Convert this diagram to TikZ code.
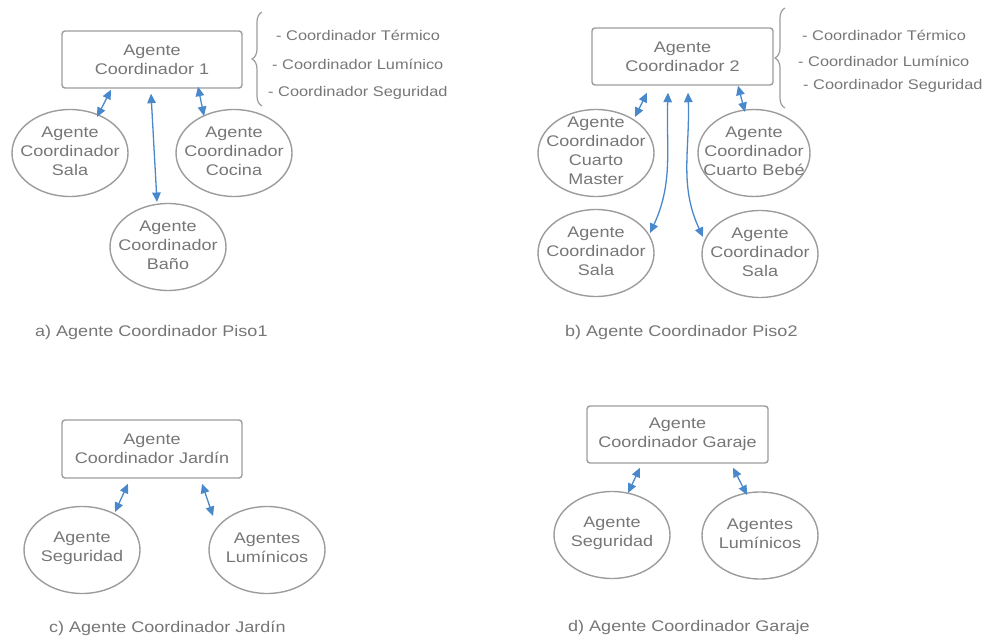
\documentclass[tikz,border=0pt]{standalone}
\usepackage{fontspec}
\setmainfont[FakeStretch=1.17]{Liberation Sans}
\usetikzlibrary{arrows.meta,calc,decorations.pathreplacing,shapes.geometric}
\definecolor{txtgray}{HTML}{767676}
\definecolor{edgegray}{HTML}{9C9C9C}
\definecolor{linkblue}{HTML}{4A88CC}

\begin{document}
\begin{tikzpicture}[x=1pt,y=1pt,
  every node/.style={text=txtgray, font=\fontsize{15.4}{19}\selectfont},
  coordbox/.style={draw=edgegray, line width=1.4pt, rounded corners=3pt,
    minimum width=180pt, minimum height=57pt, align=center, inner sep=0pt},
  agent/.style={ellipse, draw=edgegray, line width=1.4pt,
    minimum width=116pt, minimum height=87pt, inner sep=0pt},
  agenttext/.style={align=center, inner sep=0pt},
  link/.style={draw=linkblue, line width=1.3pt,
    {Triangle[length=9.5pt,width=8.5pt]}-{Triangle[length=9.5pt,width=8.5pt]}},
  listitem/.style={anchor=west, inner sep=0pt, font=\fontsize{14}{17}\selectfont},
  caption/.style={anchor=west, inner sep=0pt},
  brace/.style={draw=edgegray, line width=1.2pt, decorate,
    decoration={brace, amplitude=10pt}}
]
\useasboundingbox (0,0) rectangle (984,-639);

% ---------- a) Piso 1 ----------
\node[coordbox] (boxA) at (152,-59.5) {Agente\\Coordinador 1};
\node[agent] (salaA)   at (70,-153)  {};
\node[agent] (cocinaA) at (234,-153) {};
\node[agent] (banoA)   at (168,-247) {};
\node[agenttext] (salaAt)   at ($(salaA.center)+(0,2)$)   {Agente\\Coordinador\\Sala};
\node[agenttext] (cocinaAt) at ($(cocinaA.center)+(0,2)$) {Agente\\Coordinador\\Cocina};
\node[agenttext] (banoAt)   at ($(banoA.center)+(0,2)$)   {Agente\\Coordinador\\Baño};
\draw[link] ($(boxA.south)+(-41,-1)$) -- ($(salaA.center)+(27,36)$);
\draw[link] ($(boxA.south)+(-1,-5)$)  -- ($(banoA.center)+(-11,45)$);
\draw[link] ($(boxA.south)+(46,2)$)   -- ($(cocinaA.center)+(-30,37)$);
\draw[brace] (262,-106) -- (262,-12);
\node[listitem] (termA) at (276,-35) {- Coordinador Térmico};
\node[listitem] (lumA)  at (272,-64) {- Coordinador Lumínico};
\node[listitem] (segA)  at (268,-93) {- Coordinador Seguridad};
\node[caption] (capA) at (35,-333) {a) Agente Coordinador Piso1};

% ---------- b) Piso 2 ----------
\node[coordbox, minimum width=181pt] (boxB) at (682.5,-56.5) {Agente\\Coordinador 2};
\node[agent] (masterB) at (596,-153) {};
\node[agent, minimum width=112pt] (bebeB) at (754,-153) {};
\node[agent] (salaLB)  at (596,-253) {};
\node[agent] (salaRB)  at (760,-254) {};
\node[agenttext] (masterBt) at ($(masterB.center)+(0,2)$) {Agente\\Coordinador\\Cuarto\\Master};
\node[agenttext] (bebeBt)   at ($(bebeB.center)+(0,2)$)   {Agente\\Coordinador\\Cuarto Bebé};
\node[agenttext] (salaLBt)  at ($(salaLB.center)+(0,2)$)  {Agente\\Coordinador\\Sala};
\node[agenttext] (salaRBt)  at ($(salaRB.center)+(0,2)$)  {Agente\\Coordinador\\Sala};
\draw[link] ($(boxB.south)+(-35.5,-7)$) -- ($(masterB.center)+(39,36)$);
\draw[link] ($(boxB.south)+(-14.5,-7)$) to[out=-92,in=65]  ($(salaLB.center)+(54,20)$);
\draw[link] ($(boxB.south)+(5.5,-7)$)   to[out=-88,in=115] ($(salaRB.center)+(-57,17)$);
\draw[link] ($(boxB.south)+(55.5,0)$)   -- ($(bebeB.center)+(-9,41)$);
\draw[brace] (785,-108) -- (785,-8);
\node[listitem] (termB) at (802,-35) {- Coordinador Térmico};
\node[listitem] (lumB)  at (798,-61) {- Coordinador Lumínico};
\node[listitem] (segB)  at (803,-86) {- Coordinador Seguridad};
\node[caption] (capB) at (565,-333) {b) Agente Coordinador Piso2};

% ---------- c) Jardín ----------
\node[coordbox, minimum height=58pt] (boxC) at (152,-449) {Agente\\Coordinador Jardín};
\node[agent] (segC) at (82,-550)  {};
\node[agent] (lumC) at (267,-550) {};
\node[agenttext] (segCt) at ($(segC.center)+(0,2)$) {Agente\\Seguridad};
\node[agenttext] (lumCt) at ($(lumC.center)+(0,2)$) {Agentes\\Lumínicos};
\draw[link] ($(boxC.south)+(-24,-5)$) -- ($(segC.center)+(33,38)$);
\draw[link] ($(boxC.south)+(50,-5)$)  -- ($(lumC.center)+(-54,34)$);
\node[caption] (capC) at (49,-628) {c) Agente Coordinador Jardín};

% ---------- d) Garaje ----------
\node[coordbox, minimum width=181pt] (boxD) at (677.5,-434.5) {Agente\\Coordinador Garaje};
\node[agent] (segD) at (612,-535)   {};
\node[agent] (lumD) at (760,-535.5) {};
\node[agenttext] (segDt) at ($(segD.center)+(0,2)$) {Agente\\Seguridad};
\node[agenttext] (lumDt) at ($(lumD.center)+(0,2)$) {Agentes\\Lumínicos};
\draw[link] ($(boxD.south)+(-37.5,-4)$) -- ($(segD.center)+(16,42)$);
\draw[link] ($(boxD.south)+(55.5,-4)$)  -- ($(lumD.center)+(-13,40.5)$);
\node[caption] (capD) at (568,-628) {d) Agente Coordinador Garaje};
\end{tikzpicture}
\end{document}
